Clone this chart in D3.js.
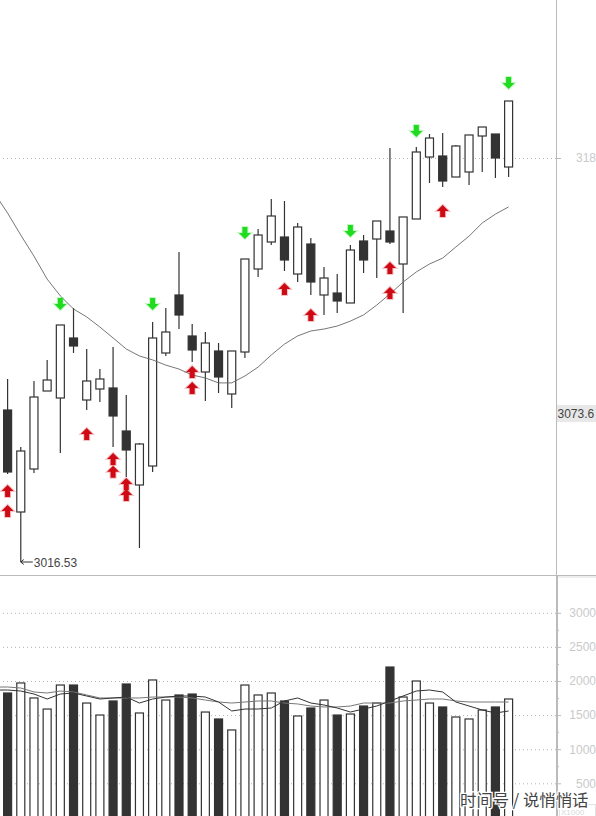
<!DOCTYPE html>
<html>
<head>
<meta charset="utf-8">
<style>
    html, body { margin: 0; padding: 0; background: #fff; overflow: hidden; }
    svg { display: block; }
    text { font-family: "Liberation Sans", Arial, sans-serif; }
</style>
<script src="https://cdn.jsdelivr.net/npm/d3@7"></script>
</head>
<body>
<div id="chart"></div>
<script>
// price candles, one entry per session
const opens = [3078.03, 3036.76, 3054.16, 3085.72, 3082.89, 3107.17, 3082.08, 3086.53, 3086.94, 3069.54,
    3047.69, 3055.37, 3101.10, 3124.57, 3107.98, 3093.41, 3101.91, 3084.51, 3101.50, 3135.09,
    3146.01, 3148.03, 3133.06, 3145.20, 3124.57, 3125.37, 3121.33, 3146.42, 3147.22, 3150.46,
    3137.11, 3155.32, 3180.40, 3180.81, 3172.31, 3174.34, 3188.90, 3189.71, 3176.36];
const highs = [3090.58, 3063.06, 3089.77, 3098.26, 3112.43, 3119.31, 3102.72, 3094.62, 3103.52, 3084.10,
    3064.68, 3113.64, 3119.31, 3141.96, 3112.83, 3109.59, 3105.14, 3101.91, 3139.13, 3151.27,
    3163.41, 3162.60, 3153.70, 3147.63, 3135.90, 3133.06, 3144.80, 3148.84, 3154.51, 3184.05,
    3156.13, 3184.45, 3189.71, 3190.12, 3185.26, 3189.31, 3192.54, 3189.71, 3203.06];
const lows = [3052.14, 3016.53, 3052.54, 3085.72, 3060.63, 3101.10, 3078.03, 3081.27, 3063.06, 3050.92,
    3022.19, 3052.95, 3099.88, 3110.81, 3097.46, 3081.67, 3084.91, 3078.84, 3099.07, 3131.85,
    3144.80, 3134.28, 3129.83, 3124.57, 3116.47, 3117.28, 3121.33, 3133.47, 3131.44, 3145.20,
    3117.28, 3155.32, 3169.88, 3168.27, 3172.31, 3169.07, 3174.34, 3171.91, 3172.31];
const closes = [3052.95, 3061.44, 3083.29, 3090.17, 3112.43, 3103.93, 3089.77, 3090.58, 3075.61, 3061.85,
    3064.28, 3107.17, 3109.59, 3116.47, 3102.31, 3105.14, 3091.39, 3101.91, 3139.13, 3148.84,
    3156.53, 3138.73, 3152.08, 3129.83, 3131.44, 3122.14, 3142.77, 3138.73, 3154.51, 3146.01,
    3156.13, 3182.43, 3188.09, 3170.69, 3184.86, 3189.31, 3192.54, 3180.00, 3203.06];

// moving averages start one session before the first candle
const priceMA = [3165.8, 3157.7, 3148.8, 3140.3, 3131.0, 3124.2, 3118.9, 3115.7, 3111.6, 3107.2,
    3102.7, 3099.9, 3098.3, 3096.2, 3094.6, 3092.2, 3091.0, 3089.0, 3089.0, 3091.8,
    3095.4, 3100.3, 3104.7, 3108.0, 3110.0, 3110.8, 3112.0, 3114.0, 3116.5, 3120.5,
    3125.0, 3129.8, 3133.9, 3137.1, 3139.5, 3144.0, 3148.4, 3153.7, 3157.3, 3160.2];

// volume in thousands
const volumes = [1824, 1971, 1751, 1589, 1941, 1941, 1677, 1501, 1707, 1956,
    1531, 2015, 1721, 1795, 1809, 1545, 1443, 1282, 1941, 1795,
    1824, 1707, 1487, 1604, 1721, 1501, 1516, 1633, 1677, 2205,
    1765, 2000, 1677, 1619, 1472, 1443, 1575, 1619, 1736];
const volumeFast = [1868, 1868, 1853, 1809, 1736, 1809, 1824, 1780, 1736, 1751,
    1765, 1677, 1736, 1765, 1780, 1780, 1765, 1692, 1560, 1589,
    1589, 1604, 1707, 1751, 1677, 1648, 1604, 1545, 1589, 1633,
    1707, 1780, 1853, 1868, 1839, 1692, 1633, 1575, 1531, 1560];
const volumeSlow = [1912, 1912, 1897, 1839, 1824, 1853, 1839, 1795, 1751, 1751,
    1751, 1751, 1765, 1765, 1765, 1751, 1721, 1692, 1677, 1692,
    1707, 1707, 1677, 1663, 1633, 1619, 1619, 1633, 1677, 1677,
    1677, 1707, 1721, 1736, 1736, 1707, 1692, 1692, 1692, 1692];

// signal markers as [session, price]
const buySignals = [[0, 3045.3], [0, 3037.2], [6, 3068.3], [8, 3058.2], [8, 3053.0], [9, 3048.1], [9, 3043.6],
    [14, 3093.4], [14, 3086.9], [21, 3127.0], [23, 3116.5], [29, 3135.5], [29, 3125.4], [33, 3158.6]];
const sellSignals = [[4, 3120.9], [11, 3120.9], [18, 3149.7], [26, 3150.5], [31, 3190.9], [38, 3210.3]];

const priceTicks = [3180];
const priceTickLabels = ["318"];
const volumeTicks = [3000, 2500, 2000, 1500, 1000, 500];
const volumeMinorTicks = [2750, 2250, 1750, 1250, 750, 250];
const lowLabel = "3016.53";
const cursorLabel = "3073.6";
const unitLabel = "X1000";
const watermark = "时间号 / 说悄悄话";

const width = 596;
const height = 816;
const axisX = 556;
const panelY = 575;

const x = d3.scaleLinear().domain([0, 38]).range([7.6, 508.6]);
const y = d3.scaleLinear().domain([3016.53, 3180]).range([562, 158]);
const yVol = d3.scaleLinear().domain([0, 3000]).range([817.4, 612.8]);

const ink = "#333";
const rule = "#bbb";
const faint = "#cacaca";
const bodyWidth = 8;

const svg = d3.select("#chart").append("svg")
    .attr("width", width)
    .attr("height", height);

// dotted grid, under everything else
function drawGrid(scale, ticks) {
    const grid = svg.append("g")
        .attr("transform", `translate(${axisX},0)`)
        .call(d3.axisLeft(scale).tickValues(ticks).tickSize(axisX).tickFormat(""));
    grid.select(".domain").remove();
    grid.selectAll("line")
        .attr("stroke", "#b4b4b4")
        .attr("stroke-dasharray", "1,3");
}
drawGrid(y, priceTicks);
drawGrid(yVol, volumeTicks);

// right hand axes
function drawAxis(scale, ticks, labels) {
    const axis = svg.append("g")
        .attr("transform", `translate(${axisX},0)`)
        .call(d3.axisRight(scale).tickValues(ticks).tickSize(5).tickPadding(labels ? 15 : 3)
            .tickFormat((d, i) => labels ? labels[i] : d));
    axis.select(".domain").remove();
    axis.selectAll("line").attr("stroke", rule);
    axis.selectAll("text")
        .attr("fill", faint)
        .style("font-size", "12px")
        .style("font-family", "'Liberation Sans', Arial, sans-serif");
    return axis;
}
drawAxis(y, priceTicks, priceTickLabels);
drawAxis(yVol, volumeTicks, null).selectAll("text")
    .attr("x", 40)
    .attr("text-anchor", "end");

const minorAxis = svg.append("g")
    .attr("transform", `translate(${axisX},0)`)
    .call(d3.axisRight(yVol).tickValues(volumeMinorTicks).tickSize(3).tickFormat(""));
minorAxis.select(".domain").remove();
minorAxis.selectAll("line").attr("stroke", rule);

// panel borders
svg.append("line")
    .attr("x1", 0).attr("x2", width)
    .attr("y1", panelY + 0.5).attr("y2", panelY + 0.5)
    .attr("stroke", rule);
svg.append("line")
    .attr("x1", axisX + 2).attr("x2", width)
    .attr("y1", panelY + 2).attr("y2", panelY + 2)
    .attr("stroke", "#ddd");
svg.append("line")
    .attr("x1", axisX + 0.5).attr("x2", axisX + 0.5)
    .attr("y1", 0).attr("y2", panelY)
    .attr("stroke", rule);
svg.append("line")
    .attr("x1", axisX + 1).attr("x2", axisX + 1)
    .attr("y1", panelY).attr("y2", height)
    .attr("stroke", rule)
    .attr("stroke-width", 2);

// candles
const candles = svg.append("g")
    .selectAll("g")
    .data(opens.map((open, i) => ({ i, open, high: highs[i], low: lows[i], close: closes[i] })))
    .enter()
    .append("g");

candles.append("line")
    .attr("x1", d => x(d.i))
    .attr("x2", d => x(d.i))
    .attr("y1", d => y(d.high))
    .attr("y2", d => y(d.low))
    .attr("stroke", ink)
    .attr("stroke-width", 1.2);

candles.append("rect")
    .attr("x", d => x(d.i) - bodyWidth / 2)
    .attr("y", d => y(Math.max(d.open, d.close)))
    .attr("width", bodyWidth)
    .attr("height", d => Math.abs(y(d.open) - y(d.close)))
    .attr("fill", d => d.close < d.open ? ink : "#fff")
    .attr("stroke", ink)
    .attr("stroke-width", 1.2);

// price moving average
const xMA = (d, i) => x(i - 1);
svg.append("path")
    .datum(priceMA)
    .attr("d", d3.line().x(xMA).y(d => y(d)))
    .attr("fill", "none")
    .attr("stroke", "#666")
    .attr("stroke-width", 0.9);

// signal arrows
const upArrow = "M0,-6L6,0H2.5V6H-2.5V0H-6Z";
const downArrow = "M0,6L6,0H2.5V-6H-2.5V0H-6Z";

function drawSignals(data, shape, colour) {
    svg.append("g")
        .selectAll("path")
        .data(data)
        .enter()
        .append("path")
        .attr("d", shape)
        .attr("transform", d => `translate(${x(d[0])},${y(d[1])})`)
        .attr("fill", colour)
        .attr("stroke", colour)
        .attr("stroke-opacity", 0.25)
        .attr("stroke-width", 2);
}
drawSignals(buySignals, upArrow, "#cf0a14");
drawSignals(sellSignals, downArrow, "#1fdc1f");

// volume bars
svg.append("g")
    .selectAll("rect")
    .data(volumes)
    .enter()
    .append("rect")
    .attr("x", (d, i) => x(i) - bodyWidth / 2)
    .attr("y", d => yVol(d))
    .attr("width", bodyWidth)
    .attr("height", d => yVol(0) - yVol(d))
    .attr("fill", (d, i) => closes[i] < opens[i] ? ink : "#fff")
    .attr("stroke", ink)
    .attr("stroke-width", 1.2);

// volume moving averages
const volumeLine = d3.line().x(xMA).y(d => yVol(d));
svg.append("path")
    .datum(volumeSlow)
    .attr("d", volumeLine)
    .attr("fill", "none")
    .attr("stroke", "#777")
    .attr("stroke-width", 1);
svg.append("path")
    .datum(volumeFast)
    .attr("d", volumeLine)
    .attr("fill", "none")
    .attr("stroke", "#333")
    .attr("stroke-width", 1);

// lowest price note
const lowY = y(3016.53);
svg.append("path")
    .attr("d", `M${x(1)},${lowY}l3,-2.5M${x(1)},${lowY}l3,2.5M${x(1)},${lowY}H${x(1) + 12}`)
    .attr("fill", "none")
    .attr("stroke", ink);
svg.append("text")
    .attr("x", x(1) + 13)
    .attr("y", lowY + 5)
    .attr("fill", "#444")
    .style("font-size", "12px")
    .text(lowLabel);

// cursor value box
svg.append("rect")
    .attr("x", axisX + 1)
    .attr("y", 405)
    .attr("width", width - axisX - 1)
    .attr("height", 17)
    .attr("fill", "#e8e8e8");
svg.append("text")
    .attr("x", axisX + 1.5)
    .attr("y", 418)
    .attr("fill", "#444")
    .style("font-size", "12px")
    .text(cursorLabel);

// unit box in the corner
svg.append("rect")
    .attr("x", axisX + 3.5)
    .attr("y", 804.5)
    .attr("width", 36)
    .attr("height", 15)
    .attr("fill", "#fff")
    .attr("stroke", "#e2e2e2");
svg.append("text")
    .attr("x", axisX + 5)
    .attr("y", 814.5)
    .attr("fill", "#d8d8d8")
    .style("font-size", "8px")
    .text(unitLabel);

// site watermark
svg.append("text")
    .attr("x", 460)
    .attr("y", 806)
    .attr("fill", "#444")
    .attr("stroke", "#fff")
    .attr("stroke-width", 2.5)
    .attr("paint-order", "stroke")
    .style("font-family", "'Noto Sans CJK SC', sans-serif")
    .style("font-size", "16.4px")
    .text(watermark);
</script>
</body>
</html>
